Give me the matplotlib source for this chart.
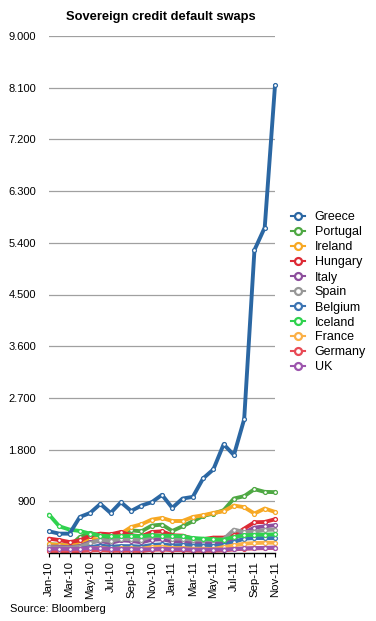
import matplotlib
matplotlib.use("Agg")
import matplotlib.pyplot as plt
from matplotlib.ticker import FuncFormatter
from matplotlib.lines import Line2D

months = ["Jan-10", "Feb-10", "Mar-10", "Apr-10", "May-10", "Jun-10", "Jul-10", "Aug-10",
          "Sep-10", "Oct-10", "Nov-10", "Dec-10", "Jan-11", "Feb-11", "Mar-11", "Apr-11",
          "May-11", "Jun-11", "Jul-11", "Aug-11", "Sep-11", "Oct-11", "Nov-11"]

greece = [377, 337, 337, 627, 697, 854, 697, 884, 732, 826, 884, 1012, 785, 948, 977, 1298,
          1455, 1892, 1705, 2329, 5274, 5666, 8139]
portugal = [150, 145, 121, 278, 348, 302, 208, 325, 395, 377, 477, 494, 383, 465, 552, 645,
            687, 744, 948, 989, 1111, 1064, 1059]
ireland = [150, 140, 130, 162, 250, 232, 162, 337, 452, 500, 581, 610, 557, 557, 627, 657,
           697, 727, 826, 797, 687, 774, 715]
hungary = [250, 225, 190, 220, 300, 337, 325, 366, 308, 290, 366, 377, 308, 302, 250, 240,
           268, 268, 308, 424, 535, 540, 587]
italy = [110, 110, 100, 120, 190, 210, 175, 220, 210, 185, 230, 240, 200, 205, 180, 180,
         175, 190, 250, 354, 442, 465, 482]
spain = [100, 95, 90, 110, 170, 230, 210, 250, 240, 230, 290, 300, 250, 250, 230, 230,
         225, 240, 407, 366, 371, 400, 407]
belgium = [60, 55, 55, 70, 100, 130, 110, 120, 120, 110, 140, 150, 130, 140, 130, 130,
           125, 133, 190, 250, 260, 260, 260]
iceland = [669, 465, 407, 383, 337, 302, 290, 290, 300, 290, 310, 300, 300, 290, 260, 250,
           240, 230, 278, 308, 318, 320, 325]
france = [50, 50, 45, 55, 80, 90, 70, 80, 80, 75, 100, 110, 85, 85, 75, 75,
          70, 103, 133, 162, 173, 179, 179]
germany = [35, 35, 30, 35, 45, 50, 40, 40, 40, 35, 55, 60, 50, 50, 40, 40,
           40, 45, 63, 75, 80, 85, 90]
uk = [75, 75, 70, 75, 85, 80, 70, 70, 70, 65, 65, 75, 65, 65, 60, 60,
      60, 60, 70, 80, 85, 90, 95]

series_names = ["Greece", "Portugal", "Ireland", "Hungary", "Italy", "Spain", "Belgium",
                "Iceland", "France", "Germany", "UK"]
series_values = [greece, portugal, ireland, hungary, italy, spain, belgium,
                 iceland, france, germany, uk]
colors = ["#2b67a3", "#4ea843", "#f7a823", "#dd2a35", "#8d4e9c", "#979797", "#3b73b3",
          "#2fd24e", "#fbb046", "#e84a55", "#9d55ad"]

yticks = [900, 1800, 2700, 3600, 4500, 5400, 6300, 7200, 8100, 9000]

plt.rcParams['font.family'] = ['Liberation Sans', 'DejaVu Sans']

fig = plt.figure(figsize=(3.76, 6.21), dpi=100)
ax = fig.add_axes([49/376, 68/621, 226/376, 517/621])

x = list(range(len(months)))
handles = []
for name, vals, c in zip(series_names, series_values, colors):
    h, = ax.plot(x, vals, color=c, lw=2.8, marker='o', ms=2.8, mfc='white', mec=c, mew=0.9,
                 label=name, clip_on=False, solid_joinstyle='round', solid_capstyle='round')
    handles.append(h)
handles[0].set_zorder(5)

ax.set_xlim(0, len(months) - 1)
ax.set_ylim(0, 9000)
ax.set_yticks(yticks)
ax.yaxis.set_major_formatter(FuncFormatter(lambda v, p: f"{int(v):,}".replace(",", ".")))
ax.tick_params(axis='y', length=0, labelsize=8, pad=9.3)
ax.grid(axis='y', color='#a0a0a0', lw=0.9)
ax.set_axisbelow(True)

ax.set_xticks(x)
ax.set_xticklabels([m if i % 2 == 0 else "" for i, m in enumerate(months)], rotation=90,
                   fontsize=8.2)
ax.tick_params(axis='x', length=3, width=0.8, color='black', pad=3)

for s in ['top', 'right', 'left']:
    ax.spines[s].set_visible(False)
ax.spines['bottom'].set_color('black')
ax.spines['bottom'].set_linewidth(1.0)

fig.text(161/376, 1 - 17/621, "Sovereign credit default swaps", ha='center', va='center',
         fontsize=9.3, fontweight='bold')
fig.text(10/376, 1 - 609/621, "Source: Bloomberg", ha='left', va='center', fontsize=8)

leg_handles = [Line2D([0], [0], color=c, lw=1.5, marker='o', ms=5, mfc='white', mec=c, mew=1.6)
               for c in colors]
fig.legend(leg_handles, series_names, loc='upper left', bbox_to_anchor=(291/376, 1 - 211.5/621),
           frameon=False, fontsize=9, handlelength=1.1, handletextpad=0.8,
           labelspacing=0.24, borderaxespad=0, borderpad=0)

fig.savefig("out.png", dpi=100)
